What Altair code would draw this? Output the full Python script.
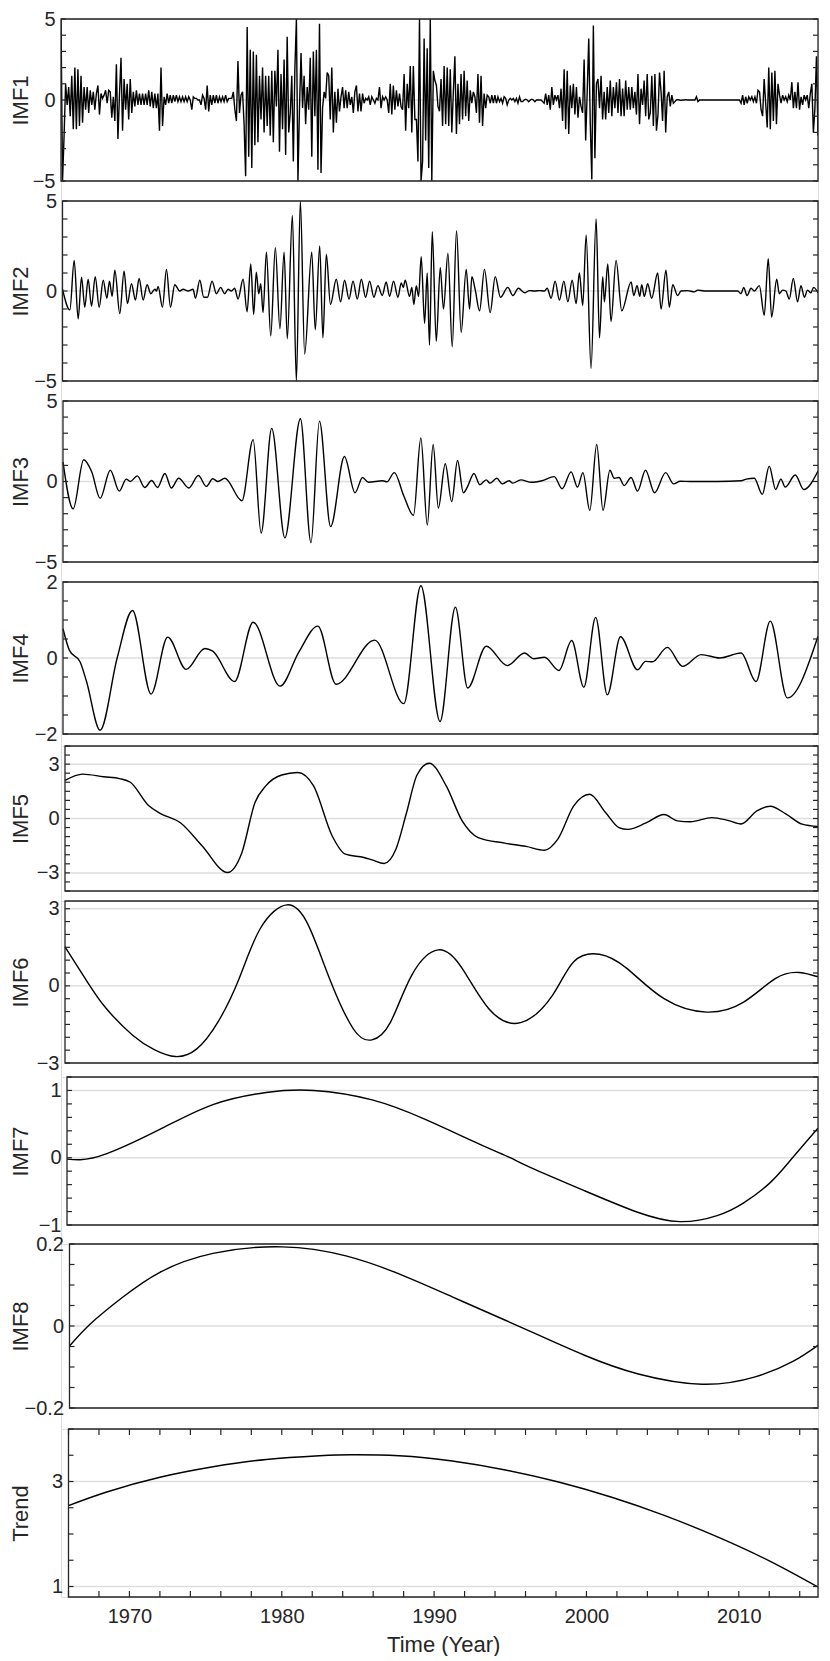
import altair as alt
import pandas as pd

FONT = "Liberation Sans"
INK = "#262626"
GRIDC = "#dedede"

X_DOMAIN = [1966.0, 2015.2]
YEAR_LABELS = [1970, 1980, 1990, 2000, 2010]
YEAR_TICKS = [1966, 1968, 1970, 1972, 1974, 1976, 1978, 1980, 1982, 1984, 1986, 1988,
              1990, 1992, 1994, 1996, 1998, 2000, 2002, 2004, 2006, 2008, 2010, 2012, 2014]

# IMF1: sampled every 0.1 year starting 1966.0 (one row per year)
IMF1_START = 1966.0
IMF1_STEP = 0.1
IMF1 = [
    6.0, -6.0, -2.2, 1.0, -0.3, 0.8, -1.0, 1.5, -1.8, 2.0,      # 1966
    -1.8, 1.9, -1.6, 1.5, -1.4, 0.8, -0.6, 0.8, -0.8, 0.6,      # 1967
    -0.3, 0.5, -0.6, 0.4, 0.9, -0.9, 0.4, 0.1, 0.3, 0.6,        # 1968
    -0.2, 0.6, 0.5, -1.1, 0.2, -1.3, 2.2, -2.4, 0.3, 2.6,       # 1969
    -1.9, 1.3, -0.6, 1.0, -1.2, 1.3, -0.8, 0.5, -0.4, 0.6,      # 1970
    -0.3, 0.4, -0.3, 0.4, -0.3, 0.4, -0.3, 0.6, -0.4, 0.5,      # 1971
    -0.5, 0.4, -0.5, 0.4, -1.9, 2.0, -1.6, 0.2, -0.3, 0.4,      # 1972
    -0.2, 0.3, -0.2, 0.3, -0.1, 0.3, -0.1, 0.2, -0.1, 0.2,      # 1973
    -0.1, 0.2, -0.1, 0.2, 0.0, -0.6, 0.2, 0.1, 0.1, 0.0,        # 1974
    0.0, -0.3, 0.3, 0.1, -0.6, 0.9, -0.7, 0.3, -0.3, 0.3,       # 1975
    -0.2, 0.3, -0.2, 0.2, -0.1, 0.2, -0.1, 0.3, -0.1, 0.1,      # 1976
    0.1, 0.1, 0.5, -0.6, -1.3, 2.4, -0.8, 0.3, 0.5, -1.5,       # 1977
    -4.7, 4.5, -3.5, 3.1, -4.2, 3.0, -2.8, 2.8, -2.6, 1.5,      # 1978
    -1.2, 2.0, -2.0, 1.5, -1.6, 1.5, -2.2, 1.8, -2.6, 1.8,      # 1979
    -0.4, 3.1, -3.2, 1.6, -1.8, 2.5, -3.4, 3.9, -2.0, -0.8,     # 1980
    1.5, -3.8, 1.9, 6.0, -6.0, -0.5, 2.9, -0.5, 1.5, -1.5,      # 1981
    0.8, -0.6, 2.6, -3.5, 3.0, -1.0, 3.1, -4.3, 4.7, -4.5,      # 1982
    -0.5, 0.5, 0.1, 1.7, 1.5, -1.2, 2.0, -2.0, 0.5, -1.4,       # 1983
    0.7, -0.7, 0.2, 0.8, -0.5, 0.6, -0.5, 0.5, -0.3, 0.2,       # 1984
    -0.8, 0.5, 0.9, -0.7, 0.4, -0.7, 0.4, -0.2, 0.1, 0.0,       # 1985
    0.2, -0.3, 0.2, 0.0, -0.2, 0.1, 0.0, 0.8, -0.5, 0.2,        # 1986
    0.0, 0.2, 0.0, -0.8, 1.0, -0.9, 0.9, -0.6, 0.6, -0.4,       # 1987
    0.4, -0.4, -0.6, 1.6, -1.9, 1.0, -0.5, 2.1, -2.0, 2.1,      # 1988
    -1.2, -1.2, -3.8, 6.0, -6.0, -3.8, 3.8, -2.5, 3.2, -4.2,    # 1989
    6.0, -6.0, 1.8, 1.2, 0.9, -0.4, -0.7, 1.3, -1.6, 2.1,       # 1990
    -1.5, 2.0, -1.6, 1.9, -2.0, 0.5, 2.7, -2.1, 1.0, -1.5,      # 1991
    1.6, -1.2, 1.8, -1.0, 1.2, -1.3, 0.6, -0.2, 0.5, 0.2,       # 1992
    -0.8, 1.6, -1.4, 1.5, -1.6, 0.4, -0.5, 0.3, 0.2, -0.2,      # 1993
    0.3, -0.2, 0.3, -0.2, 0.2, -0.1, 0.1, -0.2, 0.2, 0.1,       # 1994
    -0.3, 0.0, 0.1, 0.0, 0.1, -0.1, 0.1, -0.2, 0.2, -0.1,       # 1995
    -0.1, 0.0, 0.05, 0.0, -0.1, 0.0, 0.05, 0.0, -0.1, 0.0,      # 1996
    0.0, 0.0, 0.0, -0.1, -0.2, 0.4, -0.3, 0.3, -0.6, 0.8,       # 1997
    -0.3, 0.3, 0.0, 0.3, -0.5, 0.7, -1.3, 1.9, -1.8, 1.8,       # 1998
    -2.1, 0.9, -0.5, 1.0, -0.9, 0.8, -1.1, 0.2, -0.4, -0.8,     # 1999
    2.5, -2.5, 0.5, 3.8, -1.5, -4.9, 4.6, -3.6, 1.0, 1.3,       # 2000
    -0.5, 1.5, -1.2, 0.5, -1.2, 0.8, -0.8, 1.2, -1.0, 0.8,      # 2001
    -0.5, 1.1, -0.8, 1.3, -1.0, 0.7, -1.0, 1.2, -0.6, 0.8,      # 2002
    -0.6, 0.8, -0.5, 0.5, -0.9, 1.6, -1.5, 0.7, -0.3, 1.2,      # 2003
    -1.0, 1.6, -1.2, -0.8, 1.5, -1.6, 1.6, -1.9, -0.9, 1.7,     # 2004
    0.5, -1.3, 1.8, -2.0, 0.2, 0.5, -0.4, 0.3, -0.2, -0.1,      # 2005
    0.0, 0.02, 0.0, -0.02, 0.0, 0.0, 0.02, 0.0, 0.0, 0.0,       # 2006
    0.0, 0.0, 0.0, 0.2, -0.1, 0.0, 0.0, 0.0, 0.0, 0.0,          # 2007
    0.0, 0.0, 0.0, 0.0, 0.0, 0.0, 0.0, 0.0, 0.0, 0.0,           # 2008
    0.0, 0.0, 0.0, 0.0, 0.0, 0.0, 0.0, 0.0, 0.0, 0.0,           # 2009
    0.0, 0.0, -0.2, 0.3, -0.3, 0.2, -0.2, 0.2, 0.0, 0.2,        # 2010
    -0.1, 0.2, -0.2, 0.6, 0.5, -0.6, -1.0, 1.3, -0.2, -1.7,     # 2011
    2.0, -1.8, 1.7, -1.3, 1.8, -1.5, 1.0, 0.3, -0.2, 0.3,       # 2012
    0.0, 0.2, -0.1, 0.3, 0.0, 1.1, -0.5, 0.5, -0.5, 1.1,        # 2013
    -0.6, 0.2, -0.3, 0.3, 0.0, 0.3, -0.5, 0.4, 1.0, -2.0,       # 2014
    -0.5, 2.7, -2.2,                                            # 2015
]

IMF2 = [
    (1966.00, 0.1), (1966.48, -1.05), (1966.76, 1.7), (1967.02, -1.55), (1967.24, 0.77),
    (1967.45, -0.9), (1967.67, 0.65), (1967.89, -0.85), (1968.13, 0.8), (1968.39, -0.9),
    (1968.65, 0.6), (1968.89, -0.4), (1969.06, 0.55), (1969.23, -0.3), (1969.41, 1.15),
    (1969.73, -1.25), (1970.01, 1.1), (1970.23, -0.7), (1970.49, 0.4), (1970.75, -0.5),
    (1970.99, 0.7), (1971.25, -0.5), (1971.51, 0.35), (1971.75, -0.15), (1972.01, 0.1),
    (1972.12, 0.0), (1972.23, 0.25), (1972.51, -0.9), (1972.77, 1.2), (1973.03, -0.9),
    (1973.31, 0.35), (1973.64, 0.0), (1973.85, 0.1), (1974.18, 0.0), (1974.50, 0.1),
    (1974.66, -0.4), (1974.94, 0.6), (1975.20, -0.35), (1975.44, -0.35), (1975.74, 0.55),
    (1976.02, -0.15), (1976.30, 0.2), (1976.56, -0.15), (1976.78, 0.1), (1977.00, 0.0),
    (1977.21, 0.15), (1977.43, -0.45), (1977.76, 0.65), (1978.02, -1.15), (1978.26, 1.5),
    (1978.45, -1.3), (1978.62, 1.05), (1978.78, -0.15), (1978.91, 0.4), (1979.06, -1.2),
    (1979.28, 2.15), (1979.56, -2.5), (1979.86, 2.4), (1980.16, -2.1), (1980.43, 2.15),
    (1980.64, -2.65), (1980.97, 4.2), (1981.23, -5.3), (1981.49, 5.3), (1981.77, -3.5),
    (1982.23, 2.15), (1982.46, -2.15), (1982.75, 2.5), (1982.96, -2.6), (1983.18, 2.05),
    (1983.45, -0.75), (1983.83, 0.65), (1984.11, -0.6), (1984.37, 0.6), (1984.66, -0.45),
    (1984.92, 0.55), (1985.20, -0.45), (1985.46, 0.65), (1985.74, -0.35), (1986.00, 0.55),
    (1986.28, -0.35), (1986.54, 0.3), (1986.82, -0.25), (1987.08, 0.5), (1987.30, -0.3),
    (1987.56, 0.55), (1987.84, -0.35), (1988.06, 0.45), (1988.19, 0.2), (1988.32, 0.6),
    (1988.60, -0.3), (1988.75, 0.2), (1988.88, -0.75), (1989.04, 0.3), (1989.19, -0.3),
    (1989.36, 1.9), (1989.58, -1.8), (1989.75, 1.0), (1989.90, -3.0), (1990.08, 3.3),
    (1990.34, -2.8), (1990.60, 1.3), (1990.81, -1.0), (1991.10, 2.1), (1991.38, -3.1),
    (1991.66, 3.35), (1991.96, -2.3), (1992.29, 1.2), (1992.51, -1.0), (1992.66, 0.8),
    (1992.87, 0.1), (1993.16, -1.1), (1993.48, 1.2), (1993.85, -1.2), (1994.18, 0.8),
    (1994.52, -0.35), (1995.00, 0.2), (1995.33, -0.25), (1995.69, 0.15), (1996.09, -0.1),
    (1996.41, 0.02), (1996.74, 0.0), (1997.06, 0.02), (1997.39, 0.0), (1997.56, 0.15),
    (1997.82, -0.4), (1998.08, 0.55), (1998.36, -0.5), (1998.65, 0.55), (1998.91, -0.6),
    (1999.19, 0.6), (1999.45, -0.7), (1999.66, 1.0), (1999.88, -0.8), (2000.10, 3.1),
    (2000.42, -4.3), (2000.75, 4.0), (2000.97, -2.6), (2001.18, 0.8), (2001.29, -0.6),
    (2001.51, 1.5), (2001.72, -1.7), (2002.05, 1.7), (2002.42, -1.1), (2003.03, 0.5),
    (2003.20, -0.25), (2003.42, 0.3), (2003.59, -0.3), (2003.72, 0.35), (2003.89, -0.3),
    (2004.11, 0.4), (2004.37, -0.4), (2004.76, 1.0), (2004.98, -1.0), (2005.30, 1.15),
    (2005.52, -0.9), (2005.74, 0.35), (2006.06, -0.25), (2006.28, 0.0), (2006.71, 0.02),
    (2007.15, -0.05), (2007.36, 0.05), (2007.80, 0.0), (2009.97, 0.0), (2010.19, -0.15),
    (2010.36, 0.2), (2010.58, -0.25), (2010.84, 0.15), (2011.05, 0.0), (2011.38, 0.3),
    (2011.70, -1.35), (2011.96, 1.8), (2012.18, -1.45), (2012.51, 0.65), (2012.68, -0.15),
    (2012.90, 0.05), (2013.11, 0.0), (2013.33, -0.45), (2013.59, 0.7), (2013.87, -0.6),
    (2014.09, 0.3), (2014.31, -0.35), (2014.52, 0.05), (2014.74, -0.1), (2014.91, 0.2),
    (2015.20, -0.1),
]

IMF3 = [
    (1966.00, 1.2), (1966.66, -1.7), (1967.35, 1.35), (1967.87, 0.6), (1968.42, -1.05),
    (1969.08, 0.7), (1969.67, -0.6), (1970.12, 0.15), (1970.39, 0.0), (1970.84, 0.35),
    (1971.33, -0.37), (1971.78, 0.06), (1972.16, -0.37), (1972.64, 0.5), (1973.06, -0.4),
    (1973.54, 0.2), (1974.20, -0.4), (1974.82, 0.37), (1975.34, -0.3), (1975.76, 0.17),
    (1976.10, 0.0), (1976.55, 0.2), (1977.66, -1.2), (1978.39, 2.6), (1978.91, -3.2),
    (1979.60, 3.3), (1980.46, -3.5), (1981.47, 3.9), (1982.16, -3.8), (1982.71, 3.75),
    (1983.44, -2.8), (1984.34, 1.55), (1985.03, -0.7), (1985.52, 0.25), (1985.90, -0.05),
    (1986.83, 0.05), (1987.11, -0.02), (1987.59, 0.55), (1988.21, -0.9), (1988.84, -2.1),
    (1989.32, 2.7), (1989.74, -2.7), (1990.12, 2.3), (1990.46, -1.65), (1990.91, 1.1),
    (1991.33, -1.25), (1991.71, 1.3), (1992.09, -0.7), (1992.37, -0.3), (1992.78, 0.5),
    (1993.16, -0.2), (1993.58, 0.1), (1993.82, -0.1), (1994.27, 0.2), (1994.62, -0.15),
    (1995.07, 0.05), (1995.31, -0.1), (1995.83, 0.1), (1996.52, -0.05), (1997.21, 0.05),
    (1998.01, 0.3), (1998.53, -0.45), (1999.11, 0.6), (1999.53, -0.35), (1999.88, 0.55),
    (2000.33, -1.8), (2000.78, 2.3), (2001.19, -1.8), (2001.64, 0.7), (2001.92, 0.2),
    (2002.23, 0.25), (2002.57, -0.25), (2003.02, 0.25), (2003.44, -0.6), (2003.96, 0.7),
    (2004.55, -0.7), (2005.27, 0.55), (2005.79, -0.15), (2006.21, 0.02), (2006.90, 0.0),
    (2008.63, 0.0), (2010.19, 0.05), (2010.53, 0.15), (2011.05, 0.2), (2011.57, -0.8),
    (2012.02, 0.95), (2012.44, -0.5), (2012.78, 0.15), (2013.06, -0.35), (2013.72, 0.4),
    (2014.27, -0.5), (2015.20, 0.65),
]

IMF4 = [
    (1966.00, 0.77), (1966.42, 0.2), (1967.11, -0.1), (1967.52, -0.6), (1968.42, -1.9),
    (1969.53, 0.0), (1970.53, 1.25), (1971.74, -0.95), (1972.82, 0.55), (1974.03, -0.3),
    (1975.24, 0.25), (1975.76, 0.18), (1977.18, -0.62), (1978.39, 0.94), (1980.15, -0.74),
    (1981.36, 0.15), (1982.61, 0.84), (1983.79, -0.69), (1986.31, 0.47), (1988.21, -1.2),
    (1989.32, 1.9), (1990.57, -1.67), (1991.57, 1.34), (1992.37, -0.79), (1993.58, 0.31),
    (1994.96, -0.2), (1996.07, 0.13), (1996.69, -0.02), (1997.38, 0.02), (1998.32, -0.33),
    (1999.15, 0.46), (1999.94, -0.77), (2000.71, 1.07), (2001.47, -0.97), (2002.33, 0.56),
    (2003.44, -0.31), (2003.96, -0.09), (2004.41, -0.1), (2005.38, 0.28), (2006.38, -0.22),
    (2007.59, 0.09), (2008.80, 0.0), (2010.19, 0.13), (2011.16, -0.62), (2012.09, 0.97),
    (2013.20, -1.05), (2015.20, 0.57),
]

IMF5 = [
    (1966.00, 2.1), (1967.15, 2.45), (1968.53, 2.3), (1969.57, 2.2), (1970.27, 2.0),
    (1971.48, 0.7), (1972.18, 0.3), (1973.56, -0.25), (1974.95, -1.5), (1976.62, -2.98),
    (1977.55, -1.9), (1978.42, 0.9), (1979.12, 1.8), (1980.16, 2.4), (1981.20, 2.54),
    (1982.24, 1.8), (1983.45, -0.95), (1984.32, -1.97), (1985.53, -2.15), (1986.06, -2.28),
    (1986.85, -2.48), (1987.62, -1.7), (1988.31, 0.3), (1989.00, 2.4), (1989.80, 3.05),
    (1990.91, 1.8), (1991.95, -0.13), (1993.00, -1.05), (1994.73, -1.36), (1996.12, -1.54),
    (1997.33, -1.75), (1998.20, -1.14), (1999.24, 0.7), (2000.28, 1.34), (2001.32, 0.33),
    (2002.19, -0.5), (2002.78, -0.6), (2003.93, -0.26), (2005.14, 0.22), (2006.01, -0.13),
    (2006.87, -0.18), (2008.26, 0.05), (2009.30, -0.1), (2010.17, -0.3), (2011.21, 0.42),
    (2012.08, 0.68), (2013.12, 0.24), (2014.16, -0.31), (2015.20, -0.44),
]

IMF6 = [
    (1966.00, 1.52), (1967.49, 0.13), (1968.71, -0.89), (1970.44, -1.93), (1971.83, -2.48),
    (1973.22, -2.75), (1974.61, -2.45), (1975.99, -1.41), (1977.38, 0.29), (1978.77, 2.24),
    (1980.50, 3.15), (1981.89, 2.37), (1983.28, 0.29), (1984.84, -1.67), (1986.06, -2.1),
    (1987.27, -1.41), (1988.66, 0.42), (1990.39, 1.4), (1991.95, 0.68), (1993.69, -0.89),
    (1995.77, -1.43), (1997.85, -0.37), (1999.24, 0.94), (2000.91, 1.23), (2002.71, 0.68),
    (2005.14, -0.5), (2007.92, -1.02), (2010.34, -0.63), (2012.43, 0.29), (2013.99, 0.52),
    (2015.20, 0.35),
]

IMF7 = [
    (1966.00, -0.02), (1966.87, -0.03), (1968.61, 0.06), (1972.08, 0.42), (1975.56, 0.79),
    (1979.04, 0.97), (1982.17, 1.0), (1985.99, 0.86), (1989.47, 0.57), (1992.95, 0.21),
    (1995.03, 0.0), (1996.42, -0.15), (1999.90, -0.49), (2003.38, -0.81), (2006.16, -0.95),
    (2008.59, -0.86), (2010.33, -0.67), (2012.07, -0.37), (2013.46, -0.02), (2015.20, 0.44),
]

IMF8 = [
    (1966.00, -0.049), (1967.40, 0.006), (1969.49, 0.07), (1971.94, 0.131), (1975.43, 0.177),
    (1979.98, 0.193), (1984.17, 0.171), (1987.66, 0.127), (1991.16, 0.071), (1994.65, 0.014),
    (1996.40, -0.015), (1999.89, -0.072), (2003.39, -0.117), (2007.58, -0.142), (2011.07, -0.124),
    (2013.52, -0.087), (2015.20, -0.047),
]

TREND = [
    (1966.00, 2.54), (1968.51, 2.80), (1972.00, 3.08), (1975.49, 3.28), (1978.98, 3.42),
    (1982.47, 3.49), (1984.56, 3.51), (1987.70, 3.49), (1991.19, 3.39), (1994.68, 3.22),
    (1998.17, 2.99), (2001.66, 2.70), (2005.15, 2.35), (2008.64, 1.94), (2012.13, 1.47),
    (2015.20, 0.99),
]

TICKS_5 = [-5, -4, -3, -2, -1, 0, 1, 2, 3, 4, 5]
TICKS_2 = [-2, -1.5, -1, -0.5, 0, 0.5, 1, 1.5, 2]
TICKS_4 = [-4, -3.5, -3, -2.5, -2, -1.5, -1, -0.5, 0, 0.5, 1, 1.5, 2, 2.5, 3, 3.5, 4]
TICKS_3 = [-3, -2.5, -2, -1.5, -1, -0.5, 0, 0.5, 1, 1.5, 2, 2.5, 3]
TICKS_1 = [-1, -0.8, -0.6, -0.4, -0.2, 0, 0.2, 0.4, 0.6, 0.8, 1.0, 1.2]
TICKS_02 = [-0.2, -0.15, -0.1, -0.05, 0, 0.05, 0.1, 0.15, 0.2]
TICKS_TR = [1, 1.5, 2, 2.5, 3, 3.5, 4]

PANEL_W = 757


def pairs_df(pairs):
    return pd.DataFrame({"t": [p[0] for p in pairs], "v": [p[1] for p in pairs]})


imf1_df = pd.DataFrame({
    "t": [round(IMF1_START + i * IMF1_STEP, 3) for i in range(len(IMF1))],
    "v": IMF1,
})


def panel(df, title, ydom, labels, ticks, hf, gap, off, interp, clamp=False, bottom=False):
    W = PANEL_W
    ysc = alt.Scale(domain=ydom, range=[hf, 0], nice=False, zero=False, clamp=clamp)
    xsc = alt.Scale(domain=X_DOMAIN, range=[off, W], nice=False, zero=False)
    yaxis = alt.Axis(
        values=labels, format="~g", title=title, grid=False, domain=False, ticks=False,
        tickSize=0, labelFont=FONT, labelFontSize=20, labelColor=INK, labelPadding=6,
        labelOverlap=False, offset=-off, titleFont=FONT, titleFontSize=22, titleColor=INK,
        titleFontWeight="normal", titleX=-34 - off, titleBaseline="alphabetic",
    )
    if bottom:
        xaxis = alt.Axis(
            values=YEAR_LABELS, format="d", title="Time (Year)", grid=False, domain=False,
            ticks=False, tickSize=0, labelFont=FONT, labelFontSize=20, labelColor=INK,
            labelPadding=9, labelFlush=False, labelOverlap=False, titleFont=FONT,
            titleFontSize=22, titleColor=INK, titleFontWeight="normal", titlePadding=8,
        )
    else:
        xaxis = None

    Y = lambda: alt.Y("v:Q", scale=ysc, axis=yaxis)
    grid = alt.Chart(pd.DataFrame({"v": labels})).mark_rule(color=GRIDC, strokeWidth=1.5).encode(
        y=Y(), x=alt.value(off), x2=alt.value(W))
    line = alt.Chart(df).mark_line(color="black", strokeWidth=1.4, interpolate=interp, clip=True).encode(
        x=alt.X("t:Q", scale=xsc, axis=xaxis),
        y=Y(),
        order="t:Q",
    )
    frame = alt.Chart(pd.DataFrame({"k": [0]})).mark_rect(
        fillOpacity=0, stroke=INK, strokeWidth=1.3).encode(
        x=alt.value(off), x2=alt.value(W), y=alt.value(0), y2=alt.value(hf))
    tdf = pd.DataFrame({"v": ticks})
    tl = alt.Chart(tdf).mark_rule(color=INK, strokeWidth=1.2).encode(
        y=Y(), x=alt.value(off), x2=alt.value(off + 5))
    tr = alt.Chart(tdf).mark_rule(color=INK, strokeWidth=1.2).encode(
        y=Y(), x=alt.value(W - 5), x2=alt.value(W))
    layers = [grid, line, frame, tl, tr]
    if bottom:
        xdf = pd.DataFrame({"t": YEAR_TICKS})
        tt = alt.Chart(xdf).mark_rule(color=INK, strokeWidth=1.2).encode(
            x=alt.X("t:Q", scale=xsc, axis=xaxis), y=alt.value(0), y2=alt.value(6))
        tb = alt.Chart(xdf).mark_rule(color=INK, strokeWidth=1.2).encode(
            x=alt.X("t:Q", scale=xsc, axis=xaxis), y=alt.value(hf - 6), y2=alt.value(hf))
        layers += [tt, tb]
    return alt.layer(*layers).properties(width=W, height=hf + gap)


panels = [
    panel(imf1_df, "IMF1", [-5, 5], [-5, 0, 5], TICKS_5, 162, 20, 0, "linear", clamp=True),
    panel(pairs_df(IMF2), "IMF2", [-5, 5], [-5, 0, 5], TICKS_5, 180, 20, 1.5, "monotone", clamp=True),
    panel(pairs_df(IMF3), "IMF3", [-5, 5], [-5, 0, 5], TICKS_5, 161, 20, 2, "monotone", clamp=True),
    panel(pairs_df(IMF4), "IMF4", [-2, 2], [-2, 0, 2], TICKS_2, 152, 12, 2, "monotone"),
    panel(pairs_df(IMF5), "IMF5", [-4, 4], [-3, 0, 3], TICKS_4, 145, 10, 4, "monotone"),
    panel(pairs_df(IMF6), "IMF6", [-3, 3.3], [-3, 0, 3], TICKS_3, 162, 14, 4, "natural"),
    panel(pairs_df(IMF7), "IMF7", [-1, 1.2], [-1, 0, 1], TICKS_1, 148, 19, 6, "natural"),
    panel(pairs_df(IMF8), "IMF8", [-0.2, 0.2], [-0.2, 0, 0.2], TICKS_02, 164, 21, 8.5, "natural"),
    panel(pairs_df(TREND), "Trend", [0.8, 4.0], [1, 3], TICKS_TR, 168, 0, 7.5, "natural", bottom=True),
]

chart = alt.vconcat(*panels, spacing=0, bounds="flush").properties(
    padding={"left": 0, "top": 0, "right": 0, "bottom": 0}
).configure_view(strokeWidth=0).configure(background="white")

chart.save("out.html", embed_options={"renderer": "svg", "actions": False})
